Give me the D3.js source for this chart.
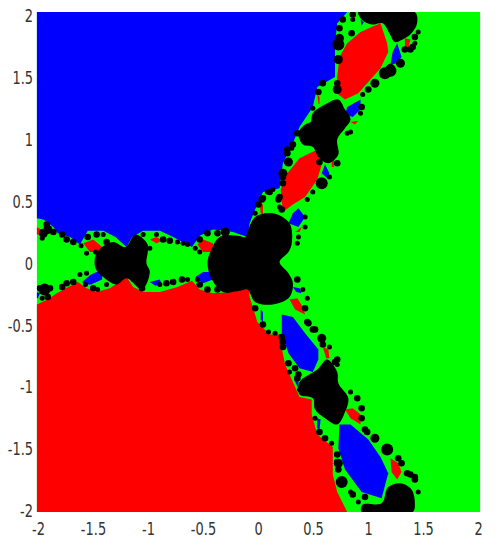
<!DOCTYPE html>
<html>
<head>
<meta charset="utf-8">
<script src="https://d3js.org/d3.v7.min.js"></script>
<style>
  html, body { margin: 0; padding: 0; background: #fff; }
  svg { display: block; }
  .tick text { font-family: "DejaVu Sans", sans-serif; font-size: 18px; fill: #333; }
</style>
</head>
<body>
<div id="chart-container"></div>
<script>
var xTicks = [-2, -1.5, -1, -0.5, 0, 0.5, 1, 1.5, 2];
var yTicks = [-2, -1.5, -1, -0.5, 0, 0.5, 1, 1.5, 2];

// basin of the blue root in axis units
var blueBasin = [[-2,2],[.80,2],[.71,1.91],[.69,1.75],[.69,1.48],[.53,1.40],[.49,1.24],[.37,1.08],[.31,.95],[.22,.79],[.19,.59],[.04,.56],[-.03,.42],[-.08,.31],[-.10,.20],[-.23,.24],[-.30,.25],[-.41,.26],[-.53,.21],[-.60,.12],[-.77,.20],[-.89,.25],[-1.04,.25],[-1.14,.20],[-1.19,.12],[-1.29,.20],[-1.40,.25],[-1.54,.25],[-1.61,.14],[-1.70,.20],[-1.81,.23],[-1.85,.28],[-1.94,.34],[-2,.35]];
var redBasin = [[-2,-2],[.80,-2],[.71,-1.84],[.67,-1.70],[.67,-1.48],[.53,-1.38],[.48,-1.22],[.48,-1.10],[.37,-1.08],[.31,-.96],[.24,-.82],[.21,-.69],[.19,-.58],[.10,-.58],[-.01,-.48],[-.08,-.28],[-.09,-.17],[-.23,-.24],[-.41,-.25],[-.53,-.22],[-.60,-.15],[-.73,-.20],[-.89,-.24],[-1.04,-.24],[-1.13,-.20],[-1.19,-.12],[-1.34,-.21],[-1.46,-.24],[-1.55,-.21],[-1.63,-.16],[-1.82,-.25],[-1.90,-.30],[-2,-.34]];

var redLobes = [
  [[1.10,1.91],[1.16,1.75],[1.17,1.68],[1.10,1.55],[.99,1.44],[.90,1.35],[.78,1.30],[.72,1.34],[.71,1.48],[.73,1.64],[.80,1.75],[.92,1.84],[1.02,1.88]],
  [[.53,.90],[.57,.78],[.53,.66],[.42,.52],[.31,.46],[.22,.40],[.20,.58],[.26,.71],[.37,.83]],
  [[.28,-.30],[.35,-.29],[.40,-.36],[.42,-.42],[.33,-.38]],
  [[.58,-.68],[.63,-.70],[.64,-.77],[.61,-.77]],
  [[.78,-1.18],[.85,-1.17],[.92,-1.22],[.92,-1.30],[.83,-1.25]],
  [[1.19,-1.57],[1.26,-1.61],[1.29,-1.68],[1.25,-1.74],[1.20,-1.68]],
  [[-1.58,.15],[-1.49,.18],[-1.41,.12],[-1.43,.08],[-1.52,.08]],
  [[-2,.28],[-1.96,.26],[-1.97,.22],[-2,.22]],
  [[-.98,.18],[-.92,.20],[-.87,.17],[-.92,.15]],
  [[-.55,.14],[-.50,.18],[-.41,.15],[-.41,.08],[-.50,.08]],
  [[1.32,1.79],[1.37,1.78],[1.35,1.70],[1.32,1.71]],
  [[.33,.24],[.39,.28],[.37,.24]],
  [[.83,1.12],[.90,1.13],[.87,1.10]],
  [[.66,.82],[.68,.81],[.68,.76],[.66,.76]],
  [[.01,.47],[.04,.46],[.04,.38],[.02,.39]],
  [[.53,1.34],[.55,1.32],[.55,1.26],[.54,1.27]]
];

var blueLobes = [
  [[.73,-1.30],[.83,-1.30],[.99,-1.42],[1.10,-1.56],[1.17,-1.69],[1.11,-1.89],[.93,-1.84],[.78,-1.66],[.72,-1.49]],
  [[.21,-.42],[.31,-.44],[.42,-.57],[.54,-.70],[.54,-.78],[.49,-.88],[.37,-.85],[.27,-.73],[.21,-.57]],
  [[.80,1.24],[.92,1.30],[.92,1.22],[.85,1.16],[.78,1.18]],
  [[1.25,1.75],[1.29,1.64],[1.25,1.59],[1.19,1.58],[1.21,1.68]],
  [[.60,.78],[.64,.71],[.62,.67],[.57,.71]],
  [[.36,.43],[.42,.36],[.36,.28],[.27,.31],[.31,.39]],
  [[-1.59,-.16],[-1.51,-.10],[-1.41,-.06],[-1.41,-.14],[-1.51,-.18],[-1.57,-.18]],
  [[-.98,-.16],[-.89,-.14],[-.87,-.18],[-.93,-.19]],
  [[-.57,-.12],[-.50,-.08],[-.41,-.08],[-.41,-.14],[-.50,-.17]],
  [[-2,-.24],[-1.97,-.25],[-1.99,-.29],[-2,-.29]],
  [[.92,1.94],[.95,1.92],[.93,1.89]],
  [[.02,-.38],[.04,-.40],[.04,-.48],[.02,-.46]],
  [[.31,-.20],[.37,-.21],[.39,-.25],[.34,-.24]],
  [[.53,-1.25],[.56,-1.26],[.55,-1.34],[.53,-1.33]],
  [[.32,-.94],[.36,-.94],[.36,-1.01]]
];

// the big black bulbs of the non converging set
var blackBulbs = [
  [[-.10,.24],[-.03,.36],[.13,.39],[.28,.31],[.30,.15],[.27,.08],[.19,0],[.27,-.09],[.31,-.17],[.28,-.28],[.13,-.34],[-.03,-.32],[-.10,-.22],[-.17,-.23],[-.32,-.24],[-.42,-.14],[-.46,-.01],[-.42,.11],[-.35,.20],[-.19,.21],[-.12,.20]],
  [[-1.47,.05],[-1.41,.12],[-1.31,.16],[-1.20,.12],[-1.11,.22],[-1.00,.14],[-1.01,-.01],[-.98,-.08],[-1.05,-.22],[-1.19,-.13],[-1.28,-.18],[-1.40,-.12],[-1.47,-.05]],
  [[.90,2],[1.41,2],[1.43,1.91],[1.38,1.83],[1.30,1.78],[1.23,1.76],[1.18,1.83],[1.12,1.91],[1.02,1.90],[.93,1.94]],
  [[.49,1.19],[.62,1.27],[.72,1.30],[.78,1.22],[.83,1.14],[.78,1.07],[.71,.98],[.72,.86],[.63,.79],[.54,.84],[.49,.92],[.40,.94],[.36,1.03],[.42,1.10],[.47,1.12]],
  [[.37,-.96],[.53,-.86],[.62,-.78],[.71,-.88],[.72,-.97],[.81,-1.09],[.78,-1.20],[.71,-1.30],[.60,-1.25],[.51,-1.18],[.49,-1.09],[.37,-1.06]],
  [[1.17,-1.80],[1.28,-1.77],[1.38,-1.82],[1.41,-1.93],[1.39,-2],[.93,-2],[.94,-1.94],[1.11,-1.93]]
];

// little black bulbs along the boundaries, grouped by size
var dotsSmall = [[-1.95,.19],[-1.60,.13],[-1.40,.22],[-1.55,.07],[-1.47,.08],[-1.04,.22],[-.92,.22],[-.73,.16],[-.68,.15],[-.64,.14],[-.98,.11],[-.53,.08],[-.57,.11],
  [.08,.56],[.13,.58],[-.03,.39],[.19,.44],[.30,.91],[.49,1.23],[.85,1.94],[.94,1.34],[.92,1.19],[.83,1.04],[.80,1.03],[1.41,1.75],[1.44,1.84],[.49,.56],[.44,.50],[.42,.36],[.42,.28],[.35,.15],[.36,.20],[.64,.68],
  [.40,-.22],[.44,-.29],[.64,-.68],[.71,-.82],[.09,-.56],[.15,-.57],[.28,-.88],[.37,-1.02],[.83,-1.04],[1.44,-1.84],[.51,-1.25],[.66,-1.45],[.83,-1.84],[.90,-1.92],
  [-1.95,-.29],[-1.56,-.18],[-1.45,-.22],[-1.37,-.18],[-1.55,-.09],[-1.61,-.10],[-1.13,-.14],[-.89,-.18],[-.64,-.14],[-.55,-.14]];
var dotsMedium = [[-1.85,.24],[-1.91,.30],[-1.77,.22],[-1.73,.18],[-1.67,.16],[-1.54,.20],[-1.46,.22],[-1.37,.16],[-.86,.18],[-.80,.17],[-.53,.18],[-.46,.23],[-.37,.23],
  [.03,.50],[.19,.52],[.22,.68],[.26,.87],[.35,1.03],[.54,1.36],[.58,1.43],[.71,1.43],[.73,1.87],[.84,1.83],[.76,1.94],[.99,1.38],[.93,1.24],[1.37,1.70],[.71,.79],
  [.04,.51],[0,.46],[.10,.56],[.18,.50],[.21,.42],[.22,.63],[.26,.90],[.31,.94],[.55,.80],[.69,1.27],[1.32,1.70],[1.39,1.72],[1.41,1.80],[.85,1.98],
  [.35,-.14],[.42,-.37],[.45,-.49],[.51,-.54],[.58,-.66],[.71,-.78],[.04,-.50],[-.03,-.37],[.22,-.68],[.27,-.81],[.35,-.93],[.89,-1.09],[.93,-1.17],[.93,-1.25],[.96,-1.34],[1.26,-1.57],[1.29,-1.61],[1.34,-1.69],[1.41,-1.72],[.55,-1.36],[.60,-1.41],[.96,-1.88],
  [.44,-.48],[.49,-.54],[.69,-.80],[.33,-.85],[.36,-.90],[.21,-.60],[.22,-.64],[.98,-1.36],[1.37,-1.70],[1.41,-1.74],[.72,-1.66],[.71,-1.60],[.71,-1.54],[.85,-1.86],
  [-1.97,-.21],[-1.88,-.21],[-1.90,-.28],[-1.77,-.20],[-1.73,-.17],[-1.67,-.16],[-1.49,-.21],[-1.05,-.21],[-.83,-.17],[-.77,-.16],[-.69,-.14],[-.53,-.18],[-.46,-.22],[-.37,-.22],[-.28,-.22]];
var dotsLarge = [[-1.94,.23],[-1.90,.26],[-.30,.24],[.27,.80],[.71,1.38],[.72,1.62],[.73,1.79],[1.19,1.55],[1.28,1.59],[1.05,1.43],[.57,.63],[.22,.71],[.57,-.61],[1.05,-1.41],[.72,-1.61]];
var dotsHuge = [[.72,1.74],[1.14,1.51],[1.19,1.53],[1.16,-1.50],[.75,-1.76],[-1.93,-.22],[.57,.63]];

var width = 498, height = 550;

var svg = d3.select("#chart-container").append("svg")
  .attr("width", width).attr("height", height);

var x = d3.scaleLinear().domain([-2, 2]).range([36.7, 480.3]);
var y = d3.scaleLinear().domain([-2, 2]).range([512, 12]);

// the tick labels sit a touch inside the image edges
var xLabel = d3.scaleLinear().domain([-2, 2]).range([38, 478]);
var yLabel = d3.scaleLinear().domain([-2, 2]).range([510, 15.5]);

var shape = d3.line()
  .x(function (d) { return x(d[0]); })
  .y(function (d) { return y(d[1]); })
  .curve(d3.curveLinearClosed);

var roundShape = d3.line()
  .x(function (d) { return x(d[0]); })
  .y(function (d) { return y(d[1]); })
  .curve(d3.curveCatmullRomClosed);

svg.append("clipPath").attr("id", "plot-clip")
  .append("rect")
  .attr("x", x(-2)).attr("y", y(2))
  .attr("width", x(2) - x(-2)).attr("height", y(-2) - y(2));

var plot = svg.append("g").attr("class", "plot").attr("clip-path", "url(#plot-clip)");

plot.append("rect")
  .attr("x", x(-2)).attr("y", y(2))
  .attr("width", x(2) - x(-2)).attr("height", y(-2) - y(2))
  .attr("fill", "#00ff00");

function drawShapes(list, color, path) {
  plot.append("g").selectAll("path")
    .data(list)
    .enter()
    .append("path")
      .attr("d", path)
      .attr("fill", color);
}

function drawDots(list, r) {
  plot.append("g").selectAll("circle")
    .data(list)
    .enter()
    .append("circle")
      .attr("cx", function (d) { return x(d[0]); })
      .attr("cy", function (d) { return y(d[1]); })
      .attr("r", r)
      .attr("fill", "#000");
}

drawShapes([blueBasin], "#0000ff", shape);
drawShapes([redBasin], "#ff0000", shape);
drawShapes(redLobes, "#ff0000", shape);
drawShapes(blueLobes, "#0000ff", shape);
drawShapes(blackBulbs, "#000", roundShape);
drawDots(dotsSmall, 2.5);
drawDots(dotsMedium, 3.3);
drawDots(dotsLarge, 4.5);
drawDots(dotsHuge, 6);

var xAxis = d3.axisBottom(xLabel).tickValues(xTicks).tickSize(0).tickFormat(d3.format("~g"));
var yAxis = d3.axisLeft(yLabel).tickValues(yTicks).tickSize(0).tickFormat(d3.format("~g"));

var squeeze = 0.72;

var gx = svg.append("g").attr("class", "x axis").attr("transform", "translate(0,512)").call(xAxis);
gx.select(".domain").remove();
gx.selectAll("text")
  .text(function (d) { return d3.format("~g")(d).replace("\u2212", "-"); })
  .attr("y", 23).attr("dy", 0)
  .attr("transform", "scale(" + squeeze + ",1)");

var gy = svg.append("g").attr("class", "y axis").attr("transform", "translate(33,0)").call(yAxis);
gy.select(".domain").remove();
gy.selectAll("text")
  .text(function (d) { return d3.format("~g")(d).replace("\u2212", "-"); })
  .attr("x", 0).attr("dy", "0.36em")
  .attr("transform", "scale(" + squeeze + ",1)");
</script>
</body>
</html>
